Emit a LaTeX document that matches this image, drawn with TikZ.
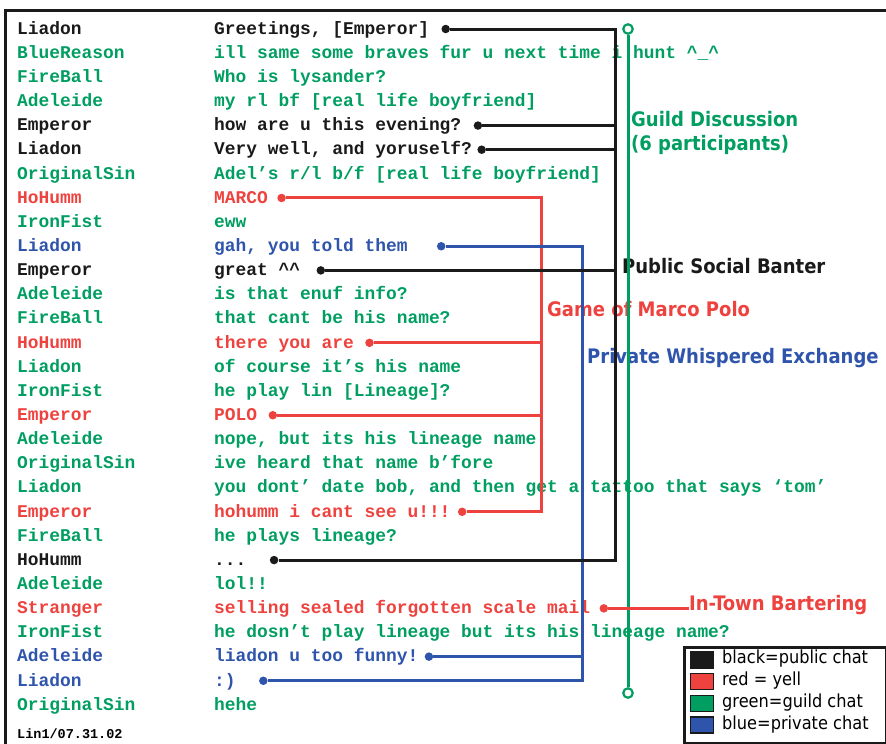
\documentclass[tikz,border=0pt]{standalone}
\usepackage{fontspec}
\setmonofont{Liberation Mono}
\newfontfamily\tagfont{DejaVu Sans Condensed}
\usetikzlibrary{positioning}
\definecolor{pub}{RGB}{26,26,26}
\definecolor{yell}{RGB}{238,66,62}
\definecolor{guild}{RGB}{0,158,96}
\definecolor{priv}{RGB}{46,84,172}
\tikzset{every picture/.style={x=1pt,y=-1pt}}
\tikzset{chat/.style={anchor=west,inner sep=0pt,text height=10.5pt,text depth=0pt,
    font=\ttfamily\bfseries\fontsize{17.9}{20}\selectfont}}
\tikzset{dot/.style={circle,fill,inner sep=0pt,minimum size=8.5pt}}
\tikzset{ring/.style={circle,draw=guild,fill=white,line width=2.2pt,inner sep=0pt,minimum size=9.5pt}}
\tikzset{thread/.style={line width=3pt}}
\tikzset{tag/.style={anchor=west,inner sep=0pt,font=\tagfont\bfseries\fontsize{20}{24}\selectfont}}
\tikzset{key/.style={anchor=west,inner sep=0pt,font=\tagfont\fontsize{18}{20}\selectfont}}
\tikzset{keybox/.style={draw=pub,line width=1.5pt,minimum width=23pt,minimum height=16pt,inner sep=0pt}}

\begin{document}
\begin{tikzpicture}
  \useasboundingbox (0,0) rectangle (886,744);
  % chat log
  \foreach \who/\what/\c [count=\i] in {
      Liadon/{Greetings, [Emperor]}/pub,
      BlueReason/{ill same some braves fur u next time i hunt \textasciicircum\_\textasciicircum}/guild,
      FireBall/{Who is lysander?}/guild,
      Adeleide/{my rl bf [real life boyfriend]}/guild,
      Emperor/{how are u this evening?}/pub,
      Liadon/{Very well, and yoruself?}/pub,
      OriginalSin/{Adel’s r/l b/f [real life boyfriend]}/guild,
      HoHumm/{MARCO}/yell,
      IronFist/{eww}/guild,
      Liadon/{gah, you told them}/priv,
      Emperor/{great \textasciicircum\textasciicircum}/pub,
      Adeleide/{is that enuf info?}/guild,
      FireBall/{that cant be his name?}/guild,
      HoHumm/{there you are}/yell,
      Liadon/{of course it’s his name}/guild,
      IronFist/{he play lin [Lineage]?}/guild,
      Emperor/{POLO}/yell,
      Adeleide/{nope, but its his lineage name}/guild,
      OriginalSin/{ive heard that name b’fore}/guild,
      Liadon/{you dont’ date bob, and then get a tattoo that says ‘tom’}/guild,
      Emperor/{hohumm i cant see u!!!}/yell,
      FireBall/{he plays lineage?}/guild,
      HoHumm/{...}/pub,
      Adeleide/{lol!!}/guild,
      Stranger/{selling sealed forgotten scale mail}/yell,
      IronFist/{he dosn’t play lineage but its his lineage name?}/guild,
      Adeleide/{liadon u too funny!}/priv,
      Liadon/{:)}/priv,
      OriginalSin/{hehe}/guild} {
    \node[chat,text=\c] (n\i) at (17,{29+(\i-1)*24.14}) {\who};
    \node[chat,text=\c] (m\i) at (214,{29+(\i-1)*24.14}) {\what};
  }
  \node[chat,font=\ttfamily\bfseries\fontsize{13.5}{15}\selectfont] (stamp) at (17,733) {Lin1/07.31.02};

  % thread labels
  \node[tag,guild,align=left] (guildtag) at (631,133) {Guild Discussion\\(6 participants)};
  \node[tag,pub] (pubtag) at (622,266) {Public Social Banter};
  \node[tag,yell] (marcotag) at (547,309) {Game of Marco Polo};
  \node[tag,priv] (privtag) at (587,358) {Private Whispered Exchange};
  \node[tag,yell] (towntag) at (689,605) {In-Town Bartering};

  % end dots
  \node[dot,pub,right=12pt of m1] (b1) {};
  \node[dot,pub,right=12pt of m5] (b5) {};
  \node[dot,pub,right=5pt of m6] (b6) {};
  \node[dot,pub,right=16pt of m11] (b11) {};
  \node[dot,pub,right=23pt of m23] (b23) {};
  \node[dot,yell,right=9pt of m8] (b8) {};
  \node[dot,yell,right=11pt of m14] (b14) {};
  \node[dot,yell,right=11pt of m17] (b17) {};
  \node[dot,yell,right=7pt of m21] (b21) {};
  \node[dot,yell,right=9pt of m25] (b25) {};
  \node[dot,priv,right=29pt of m10] (b10) {};
  \node[dot,priv,right=6pt of m27] (b27) {};
  \node[dot,priv,right=23pt of m28] (b28) {};

  % threads
  \coordinate (pubx) at (615,0);
  \coordinate (yellx) at (541,0);
  \coordinate (privx) at (582,0);
  \draw[thread,yell] (b8) -- (b8 -| yellx) -- (b21 -| yellx) -- (b21);
  \foreach \k in {14,17}
    \draw[thread,yell] (b\k) -- (b\k -| yellx);
  \draw[thread,priv] (b10) -- (b10 -| privx) -- (b28 -| privx) -- (b28);
  \draw[thread,priv] (b27) -- (b27 -| privx);
  \draw[thread,pub] (b1) -- (b1 -| pubx) -- (b23 -| pubx) -- (b23);
  \foreach \k in {5,6,11}
    \draw[thread,pub] (b\k) -- (b\k -| pubx);
  \node[ring] (g1) at (628,29) {};
  \node[ring] (g2) at (628,693) {};
  \draw[thread,guild] (g1) -- (g2);
  \draw[thread,yell] (b25) -- (b25 -| towntag.west);

  % legend
  \node[draw=pub,line width=2.6pt,fill=white,minimum width=202pt,minimum height=96pt,
    anchor=north west] (legend) at (683,646) {};
  \foreach \c/\t [count=\j] in {pub/black=public chat, yell/red = yell,
      guild/green=guild chat, priv/blue=private chat} {
    \node[keybox,fill=\c] (s\j) at (702,{660+(\j-1)*21.7}) {};
    \node[key] (k\j) at (722,{659+(\j-1)*21.7}) {\t};
  }

  % frame
  \draw[line width=3pt,pub] (5,760) -- (5,10) -- (900,10);
\end{tikzpicture}
\end{document}
